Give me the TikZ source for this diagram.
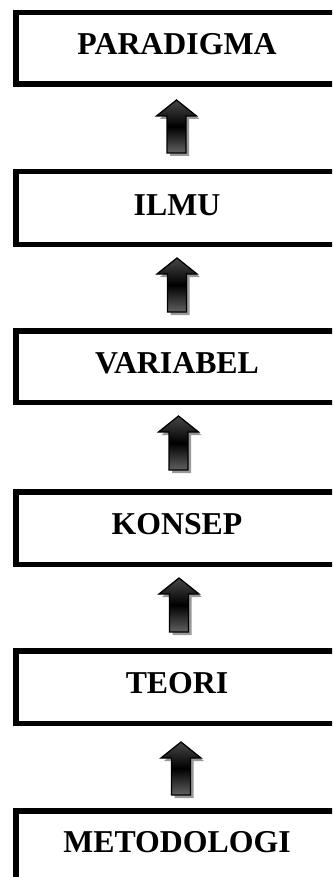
\documentclass[tikz,border=0pt]{standalone}
\usepackage{fontspec}
\setmainfont{Liberation Serif}
\newcommand\uparrowblock[3]{%
  \fill[black!40] ([shift={(3,3)}]#1,#2) -- ([shift={(3,3)}]#1+20,#2+16) -- ([shift={(3,3)}]#1+9.5,#2+16) -- ([shift={(3,3)}]#1+9.5,#3) -- ([shift={(3,3)}]#1-9.5,#3) -- ([shift={(3,3)}]#1-9.5,#2+16) -- ([shift={(3,3)}]#1-20,#2+16) -- cycle;
  \shadedraw[arrowfill] (#1,#2) -- (#1+20,#2+16) -- (#1+9.5,#2+16) -- (#1+9.5,#3) -- (#1-9.5,#3) -- (#1-9.5,#2+16) -- (#1-20,#2+16) -- cycle;
}
\begin{document}
\begin{tikzpicture}[x=1pt,y=-1pt,
  boxframe/.style={draw=black,line width=5.5pt,rectangle,inner sep=0pt,fill=white},
  lbl/.style={anchor=base,inner sep=0pt,font=\bfseries\fontsize{31.8}{36}\selectfont},
  arrowfill/.style={draw=black,line width=1.3pt,top color=black!72,bottom color=black!62,middle color=black!100}]
\useasboundingbox (0,0) rectangle (332,877);
\fill[white] (0,0) rectangle (332,877);
\clip (0,0) rectangle (332,877);
% boxes (line centres)
\node[boxframe,minimum width=340pt,minimum height=71.5pt] (b1) at (185.75,48.5) {};
\node[boxframe,minimum width=340pt,minimum height=72.5pt] (b2) at (185.75,208) {};
\node[boxframe,minimum width=340pt,minimum height=71.5pt] (b3) at (185.75,366.5) {};
\node[boxframe,minimum width=340pt,minimum height=72.5pt] (b4) at (185.75,528) {};
\node[boxframe,minimum width=340pt,minimum height=72.5pt] (b5) at (185.75,687) {};
\node[boxframe,minimum width=340pt,minimum height=72.5pt] (b6) at (185.75,847) {};
% labels
\node[lbl] (t1) at (177,55) {PARADIGMA};
\node[lbl] (t2) at (177,215) {ILMU};
\node[lbl] (t3) at (177,373) {VARIABEL};
\node[lbl] (t4) at (177,534) {KONSEP};
\node[lbl] (t5) at (177,693) {TEORI};
\node[lbl] (t6) at (177,852) {METODOLOGI};
% block arrows
\uparrowblock{176.5}{100}{153}
\uparrowblock{177}{258}{312}
\uparrowblock{178.5}{416}{470}
\uparrowblock{179}{578}{632}
\uparrowblock{181}{742}{795}
\end{tikzpicture}
\end{document}
